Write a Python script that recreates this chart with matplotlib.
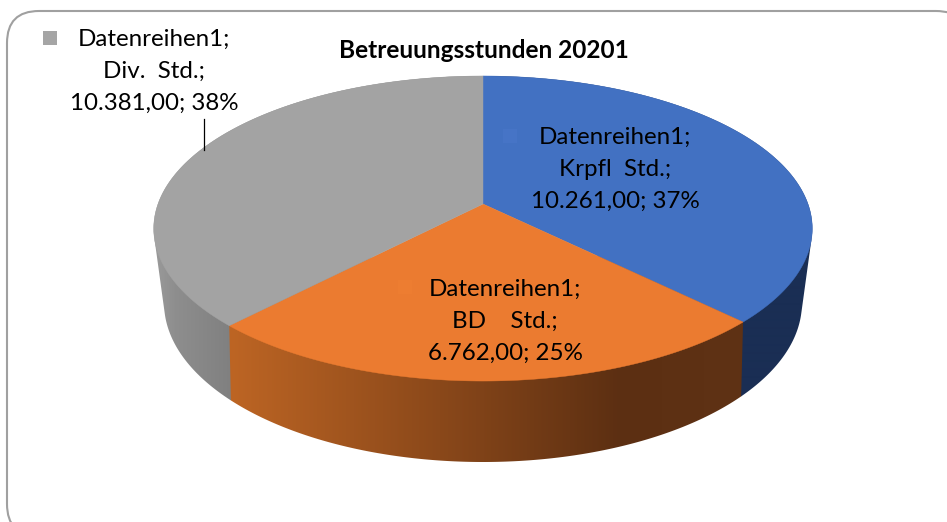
import numpy as np
import matplotlib
matplotlib.use("Agg")
import matplotlib.pyplot as plt
from matplotlib.patches import FancyBboxPatch, Polygon
from matplotlib.colors import to_rgb

series_name = "Datenreihen1"
categories = ["Krpfl  Std.", "BD    Std.", "Div.  Std."]
values = [10261, 6762, 10381]
title = "Betreuungsstunden 20201"

top_colors = ["#4271C2", "#EB7B30", "#A3A3A3"]
key_colors = ["#4674C6", "#ED7D31", "#A5A5A5"]
side_stops = [
    ([155, 800], ["#1A2E54", "#1A2E54"]),
    ([230, 440, 620, 745], ["#BD6524", "#8A481A", "#5C2F12", "#5F3215"]),
    ([155, 175, 235], ["#9A9A9A", "#8E8E8E", "#7F7F7F"]),
]
label_pos = [(615, 137), (505, 289), (154, 39)]
key_pos = [(510, 136), (405, 287), (50, 38)]

plt.rcParams["font.family"] = ["Lato", "DejaVu Sans"]
fig = plt.figure(figsize=(9.47, 5.22), dpi=100)
ax = fig.add_axes([0, 0, 1, 1])
ax.axis("off")


def project(theta, cx, q, c, p, k):
    """theta clockwise from the back of the pie; perspective of a unit circle."""
    u, v = np.sin(theta), np.cos(theta)
    w = 1 + k * v
    return cx + q * u / w, (c - p * v) / w


def hull(points):
    pts = sorted(set(map(tuple, points)))

    def half(seq):
        out = []
        for pt in seq:
            while len(out) > 1 and ((out[-1][0] - out[-2][0]) * (pt[1] - out[-2][1])
                                    - (out[-1][1] - out[-2][1]) * (pt[0] - out[-2][0])) <= 0:
                out.pop()
            out.append(pt)
        return out[:-1]

    return np.array(half(pts) + half(pts[::-1]))


top = dict(cx=483, q=325.0, c=204, p=115.8, k=0.1607)
bot = dict(cx=483, q=312.5, c=271.2, p=98.4, k=0.2)

ax.add_patch(FancyBboxPatch((37, 41), 901, 465, boxstyle="round,pad=30,rounding_size=32",
                            fc="white", ec="#A0A0A0", lw=1.5, zorder=0))

fractions = np.array(values) / sum(values)
edges = np.concatenate([[0], np.cumsum(fractions)]) * 2 * np.pi
px = np.arange(947)

# sides: horizontal gradient clipped to each slice's wall; the front slice goes last
for z, i in enumerate([2, 0, 1]):
    th = np.linspace(edges[i], edges[i + 1], 300)
    outline = np.vstack([np.column_stack(project(th, **top)),
                         np.column_stack(project(th, **bot))])
    patch = Polygon(hull(outline), closed=True, fc="none", ec="none", transform=ax.transData)
    ax.add_patch(patch)
    xs, cols = side_stops[i]
    rgb = np.array([to_rgb(c) for c in cols])
    grad = np.stack([np.interp(px, xs, rgb[:, j]) for j in range(3)], axis=-1)[None, :, :]
    im = ax.imshow(grad, extent=(0, 947, 522, 0), aspect="auto",
                   interpolation="bilinear", zorder=1 + z * 0.1)
    im.set_clip_path(patch)

# top faces
apex = project(0.0, **{**top, "p": 0, "q": 0, "k": 0})
for i in range(len(values)):
    th = np.linspace(edges[i], edges[i + 1], 300)
    x, y = project(th, **top)
    pts = np.column_stack([np.r_[apex[0], x], np.r_[apex[1], y]])
    ax.add_patch(Polygon(pts, closed=True, fc=top_colors[i], ec=top_colors[i], lw=0.3, zorder=2))

# labels
fs = 17.4
step = 32.4
for i, cat in enumerate(categories):
    num = f"{values[i]:,.2f}".replace(",", "X").replace(".", ",").replace("X", ".")
    lines = [f"{series_name};", f"{cat};", f"{num}; {fractions[i] * 100:.0f}%"]
    lx, ly = label_pos[i]
    for j, s in enumerate(lines):
        ax.text(lx, ly + j * step, s, ha="center", va="center", fontsize=fs, color="black", zorder=4)
    ax.plot(*key_pos[i], marker="s", ms=10, color=key_colors[i], mew=0, ls="none", zorder=3)

ax.plot([204, 204], [119, 150], color="black", lw=0.9, zorder=3)
ax.text(484, 51, title, ha="center", va="center", fontsize=17.6, fontweight="bold", color="black", zorder=4)

ax.set_xlim(0, 947)
ax.set_ylim(522, 0)
fig.savefig("out.png", dpi=100)
